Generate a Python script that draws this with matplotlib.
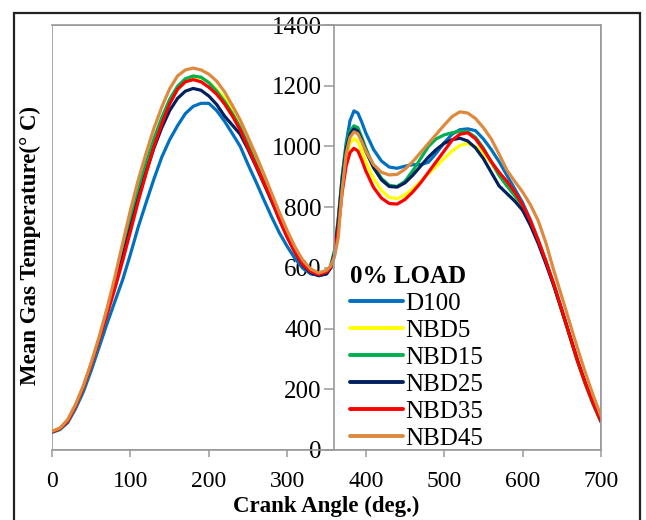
import matplotlib
matplotlib.use("Agg")
import matplotlib.pyplot as plt
from matplotlib.patches import Rectangle

plt.rcParams['font.family'] = ['Liberation Serif', 'DejaVu Serif']

# crank angle (deg.)
crank = [0, 10, 20, 30, 40, 50, 60, 70, 80, 90, 100, 110, 120, 130, 140, 150, 160, 170, 180, 190,
         200, 210, 220, 230, 240, 250, 260, 270, 280, 290, 300, 310, 320, 330, 340, 350,
         355, 360, 365, 370, 375, 380, 385, 390, 395,
         400, 410, 420, 430, 440, 450, 460, 470, 480, 490, 500, 510, 520, 530, 540, 550, 560, 570, 580, 590,
         600, 610, 620, 630, 640, 650, 660, 670, 680, 690, 700]

# mean gas temperature (deg C) for each fuel
d100 = [58, 67, 90, 136, 192, 262, 338, 415, 488, 560, 645, 735, 815, 893, 965, 1022, 1068, 1108, 1132, 1142,
        1142, 1118, 1083, 1042, 1000, 940, 884, 825, 768, 715, 670, 630, 598, 580, 576, 580,
        600, 650, 760, 900, 1010, 1085, 1117, 1110, 1080,
        1045, 990, 952, 932, 928, 935, 940, 940, 948, 978, 1012, 1040, 1055, 1058, 1052, 1025, 990, 950, 905, 860,
        815, 758, 692, 620, 542, 460, 376, 292, 217, 150, 92]
nbd5 = [60, 70, 95, 144, 205, 280, 362, 450, 545, 645, 748, 845, 932, 1012, 1083, 1143, 1188, 1215, 1226, 1226,
        1212, 1188, 1160, 1122, 1076, 1020, 960, 897, 836, 773, 713, 661, 618, 592, 582, 590,
        605, 650, 750, 880, 965, 1010, 1027, 1015, 985,
        950, 895, 855, 832, 828, 840, 860, 885, 910, 935, 960, 985, 1003, 1010, 1000, 978, 945, 905, 870, 838,
        805, 752, 688, 618, 540, 458, 375, 292, 218, 152, 95]
nbd15 = [60, 70, 96, 146, 207, 282, 365, 455, 552, 655, 760, 858, 945, 1025, 1095, 1155, 1198, 1223, 1232, 1228,
         1210, 1182, 1148, 1108, 1062, 1005, 945, 885, 825, 763, 706, 656, 614, 590, 580, 587,
         605, 655, 760, 900, 1000, 1050, 1068, 1062, 1030,
         995, 935, 895, 872, 868, 885, 920, 960, 1000, 1025, 1038, 1045, 1050, 1048, 1030, 995, 950, 905, 870, 838,
         805, 750, 688, 618, 542, 460, 378, 295, 220, 153, 95]
nbd25 = [60, 70, 95, 145, 206, 281, 363, 450, 540, 635, 732, 828, 915, 995, 1062, 1118, 1158, 1182, 1191, 1185,
         1166, 1138, 1100, 1070, 1040, 990, 935, 878, 820, 760, 702, 650, 608, 584, 574, 580,
         598, 645, 750, 890, 990, 1040, 1058, 1050, 1020,
         985, 930, 890, 868, 866, 880, 905, 935, 965, 990, 1010, 1022, 1027, 1018, 995, 960, 915, 870, 845, 820,
         790, 740, 680, 612, 540, 460, 378, 295, 222, 155, 95]
nbd35 = [60, 70, 95, 145, 206, 281, 363, 445, 530, 622, 720, 820, 912, 1000, 1075, 1140, 1188, 1213, 1220, 1213,
         1195, 1172, 1140, 1100, 1054, 995, 938, 880, 825, 758, 700, 650, 610, 588, 578, 586,
         600, 640, 730, 850, 935, 980, 994, 985, 955,
         920, 865, 830, 812, 810, 825, 850, 880, 915, 950, 985, 1020, 1040, 1045, 1025, 990, 950, 915, 885, 850,
         808, 755, 690, 620, 545, 462, 378, 295, 220, 155, 95]
nbd45 = [62, 72, 100, 150, 212, 288, 372, 465, 568, 680, 790, 890, 978, 1060, 1130, 1190, 1232, 1252, 1258, 1252,
         1238, 1215, 1180, 1135, 1087, 1030, 972, 910, 846, 782, 722, 668, 624, 596, 583, 592,
         605, 635, 700, 860, 975, 1030, 1048, 1042, 1015,
         985, 940, 915, 906, 908, 925, 950, 980, 1010, 1040, 1070, 1098, 1114, 1110, 1092, 1062, 1025, 975, 922, 885,
         850, 808, 755, 680, 590, 505, 420, 335, 255, 180, 112]

labels = ['D100', 'NBD5', 'NBD15', 'NBD25', 'NBD35', 'NBD45']
colors = ['#0070C0', '#FFFF00', '#00B050', '#002060', '#FF0000', '#DE8A3E']
series = [d100, nbd5, nbd15, nbd25, nbd35, nbd45]

fig = plt.figure(figsize=(6.46, 5.2), dpi=100)
ax = fig.add_axes([52 / 646, 70 / 520, 549 / 646, 425 / 520])

for s, c, lab in zip(series, colors, labels):
    ax.plot(crank, s, color=c, lw=2.3, label=lab, solid_capstyle='round')

ax.set_xlim(0, 700)
ax.set_ylim(0, 1400)
ax.set_xticks(range(0, 701, 100))
ax.set_yticks(range(0, 1401, 200))

grey = '#9A9A9A'
# y axis sits at 360 deg
ax.spines['left'].set_position(('data', 360))
for sp in ax.spines.values():
    sp.set_color(grey)
    sp.set_linewidth(1.2)
ax.add_patch(Rectangle((0, 0), 1, 1, transform=ax.transAxes, fill=False,
                       ec=grey, lw=1.2, zorder=0.5))

ax.tick_params(axis='x', direction='out', length=5, width=1.1, color=grey,
               labelsize=17, pad=10)
ax.tick_params(axis='y', direction='out', length=7, width=1.1, color=grey,
               labelsize=18, pad=2)

ax.set_xlabel('Crank Angle (deg.)', fontsize=16.5, fontweight='bold')
ax.xaxis.set_label_coords(0.5, -0.108)
ax.set_ylabel('Mean Gas Temperature(° C)', fontsize=16.5, fontweight='bold',
              va='center', ha='center')
ax.yaxis.set_label_coords(-0.040, 0.482)

leg = ax.legend(loc='upper left', bbox_to_anchor=(0.543, 0.435), frameon=False,
                fontsize=18, title='0% LOAD', title_fontproperties={'weight': 'bold', 'size': 18},
                alignment='left', handlelength=2.1, handletextpad=0.1,
                labelspacing=0.18, borderpad=0, borderaxespad=0)
for h in leg.get_lines():
    h.set_linewidth(2.8)

# outer frame of the picture
fig.add_artist(Rectangle((14 / 646, -0.05), 626 / 646, 1.05 - 13 / 520,
                         transform=fig.transFigure, fill=False, ec='#222222', lw=1.6))

fig.savefig('out.png', dpi=100)
